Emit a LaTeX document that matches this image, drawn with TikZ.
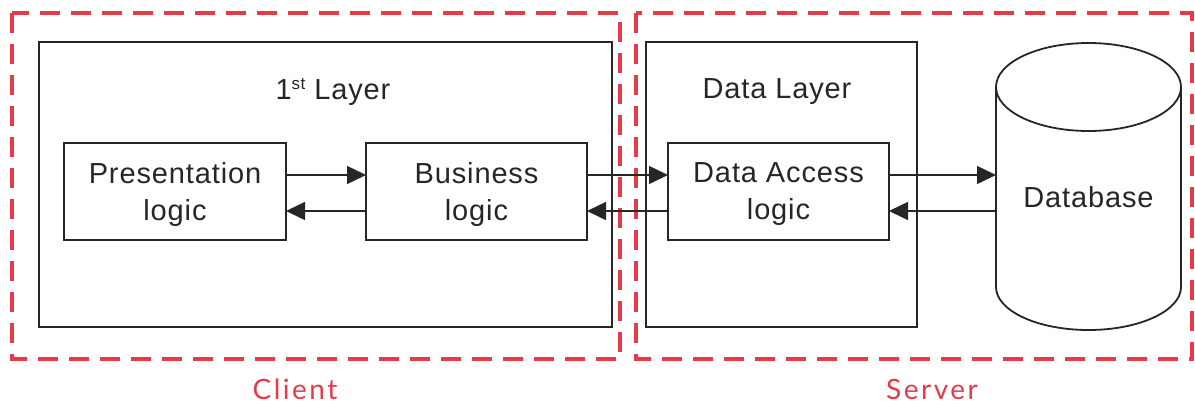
\documentclass[tikz,border=0pt]{standalone}
\usepackage{fontspec}
\setmainfont{Liberation Sans}
\newfontfamily\tagfont[LetterSpace=9]{Lato}
\newfontfamily\boxfont[LetterSpace=3]{Liberation Sans}
\usetikzlibrary{arrows.meta}
\definecolor{tagred}{RGB}{231,58,72}
\definecolor{ink}{RGB}{38,38,38}
\tikzset{
  every node/.style={inner sep=0pt, outer sep=0pt},
  layerbox/.style={draw=ink, line width=1.8pt, rectangle},
  logicbox/.style={draw=ink, line width=1.8pt, rectangle,
    minimum width=222pt, minimum height=97pt, align=center, text depth=0pt,
    text=ink, font=\boxfont\fontsize{29}{37}\selectfont},
  caption/.style={text=ink, font=\boxfont\fontsize{29}{35}\selectfont},
  zone/.style={draw=tagred, line width=4pt, dash pattern=on 20pt off 11pt},
  zonetag/.style={text=tagred, font=\tagfont\fontsize{28}{32}\selectfont},
  flow/.style={draw=ink, line width=1.5pt,
    -{Triangle[length=19pt, width=18pt, fill=ink]}},
}
\begin{document}
\begin{tikzpicture}[x=1pt, y=-1pt]
  \useasboundingbox (0,0) rectangle (1195,405);

  % client and server zones
  \draw[zone] (12,13) rectangle (620,359);
  \draw[zone] (636,13) rectangle (1192,359);
  \node[zonetag] (client) at (295,389) {Client};
  \node[zonetag] (server) at (932,389) {Server};

  % the two layers
  \node[layerbox, minimum width=573pt, minimum height=285pt] (layer1) at (325.5,184.5) {};
  \node[layerbox, minimum width=271pt, minimum height=285pt] (layer2) at (781.5,184.5) {};
  \node[caption] (layer1cap) at (333,92) {1{\fontsize{17}{17}\selectfont\raisebox{10pt}{st}} Layer};
  \node[caption] (layer2cap) at (777,92) {Data Layer};

  % logic components
  \node[logicbox] (pres) at (175,191.5) {Presentation\\logic};
  \node[logicbox, minimum width=221pt] (bus) at (476.5,191.5) {Business\\logic};
  \node[logicbox, minimum width=221pt] (dacc) at (778.5,191.5) {Data Access\\logic};

  % database cylinder
  \node[minimum width=185pt, minimum height=288pt] (db) at (1088.5,186) {};
  \draw[ink, line width=1.8pt, fill=white] (996,87) -- (996,287)
    arc (180:0:92.5 and 43) -- (1181,87);
  \draw[ink, line width=1.8pt] (1088.5,87) ellipse (92.5 and 44);
  \node[caption] (dblabel) at (1088.5,197) {Database};

  % request and response rows
  \coordinate (req) at (0,175);
  \coordinate (resp) at (0,211);
  \draw[flow] (pres.east |- req) -- (bus.west |- req);
  \draw[flow] (bus.west |- resp) -- (pres.east |- resp);
  \draw[flow] (bus.east |- req) -- (dacc.west |- req);
  \draw[flow] (dacc.west |- resp) -- (bus.east |- resp);
  \draw[flow] (dacc.east |- req) -- (db.west |- req);
  \draw[flow] (db.west |- resp) -- (dacc.east |- resp);
\end{tikzpicture}
\end{document}
